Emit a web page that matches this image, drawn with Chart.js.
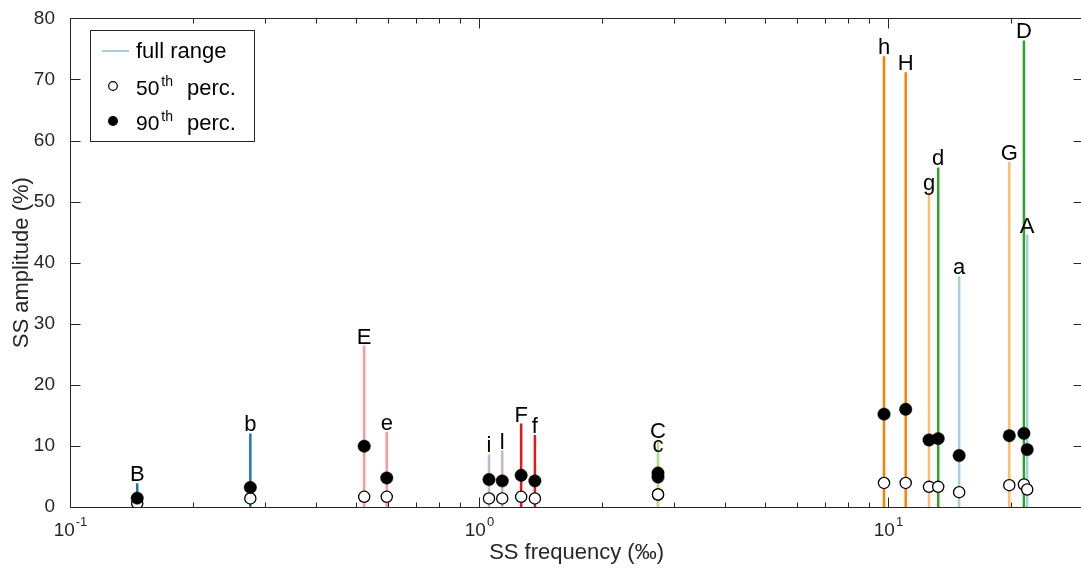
<!DOCTYPE html>
<html>
<head>
<meta charset="utf-8">
<script src="https://cdn.jsdelivr.net/npm/chart.js@4.4.1/dist/chart.umd.min.js"></script>
<style>
  html, body { margin: 0; padding: 0; background: #fff; overflow: hidden; }
  #c { display: block; }
</style>
</head>
<body>
<!-- canvas slightly wider than the window: the plot box runs past the right edge like the original -->
<canvas id="c" width="1090" height="577"></canvas>
<script>
// site labels, frequency (per mille), full range max, 50th and 90th percentile amplitude (%)
const names   = ['B', 'b', 'E', 'e', 'i', 'l', 'F', 'f', 'C', 'c', 'h', 'H', 'g', 'd', 'a', 'G', 'D', 'A'];
const freq    = [0.146, 0.276, 0.524, 0.595, 1.058, 1.14, 1.268, 1.37, 2.74, 2.74, 9.78, 11.05, 12.6, 13.27, 14.93, 19.8, 21.5, 21.9];
const fullMax = [3.9, 12.05, 26.4, 12.3, 8.6, 9.25, 13.67, 11.8, 11.0, 8.75, 73.8, 71.2, 51.5, 55.6, 37.8, 56.5, 76.4, 44.6];
const perc50  = [0.6, 1.4, 1.67, 1.67, 1.4, 1.4, 1.67, 1.4, 2.05, 2.05, 3.94, 3.94, 3.3, 3.3, 2.43, 3.57, 3.68, 2.87];
const perc90  = [1.45, 3.2, 9.95, 4.75, 4.5, 4.27, 5.19, 4.27, 5.56, 4.9, 15.2, 16.0, 10.97, 11.2, 8.43, 11.67, 12.05, 9.4];
const letterColors = { a: '#a6cee3', b: '#1f78b4', c: '#b2df8a', d: '#33a02c', e: '#fb9a99',
                       f: '#e31a1c', g: '#fdbf6f', h: '#ff7f00', i: '#cab2d6', l: '#cab2d6' };
const xTickValues = [0.1, 1, 10];
const xTickExps   = ['-1', '0', '1'];

const FONT = "'Liberation Sans', Arial, sans-serif";
const AX = '#262626';

function colorOf(n){ return letterColors[n.toLowerCase()]; }

const rangeSets = names.map((n, i) => ({
  type: 'line',
  showLine: true,
  data: [{ x: freq[i], y: 0 }, { x: freq[i], y: fullMax[i] }],
  borderColor: colorOf(n),
  borderWidth: 2.5,
  pointRadius: 0,
  order: 3
}));

const p50Set = {
  type: 'scatter',
  data: freq.map((f, i) => ({ x: f, y: perc50[i] })),
  pointRadius: 5.6,
  pointBackgroundColor: '#fff',
  pointBorderColor: '#000',
  pointBorderWidth: 1.3,
  order: 2
};
const p90Set = {
  type: 'scatter',
  data: freq.map((f, i) => ({ x: f, y: perc90[i] })),
  pointRadius: 6.2,
  pointBackgroundColor: '#000',
  pointBorderColor: '#000',
  pointBorderWidth: 0.5,
  order: 1
};

const decor = {
  id: 'decor',
  afterDatasetsDraw(chart) {
    const { ctx, chartArea: a, scales: { x, y } } = chart;
    ctx.save();
    // box + inward ticks
    ctx.strokeStyle = AX; ctx.lineWidth = 1;
    const L = Math.round(a.left) + 0.5, T = Math.round(a.top) + 0.5;
    const R = Math.round(a.right) + 0.5, B = Math.round(a.bottom) + 0.5;
    ctx.beginPath();
    ctx.moveTo(L, T); ctx.lineTo(R, T); ctx.lineTo(R, B); ctx.lineTo(L, B); ctx.closePath();
    for (const d of xTickValues) {
      for (let m = 1; m < 10; m++) {
        const v = m * d;
        if (v > x.max) break;
        const px = Math.round(x.getPixelForValue(v)) + 0.5;
        const len = m === 1 ? 10 : 5;
        ctx.moveTo(px, B); ctx.lineTo(px, B - len);
        ctx.moveTo(px, T); ctx.lineTo(px, T + len);
      }
    }
    for (const t of y.ticks) {
      const py = Math.round(y.getPixelForValue(t.value)) + 0.5;
      ctx.moveTo(L, py); ctx.lineTo(L + 10, py);
      ctx.moveTo(R, py); ctx.lineTo(R - 10, py);
    }
    ctx.stroke();

    // x tick labels with superscript exponents
    ctx.fillStyle = AX;
    ctx.textBaseline = 'alphabetic';
    ctx.textAlign = 'left';
    xTickValues.forEach((v, i) => {
      const px = x.getPixelForValue(v);
      ctx.font = '19px ' + FONT;
      const wb = ctx.measureText('10').width;
      ctx.font = '13px ' + FONT;
      const we = ctx.measureText(xTickExps[i]).width;
      const x0 = px - (wb + we) / 2;
      ctx.font = '19px ' + FONT;
      ctx.fillText('10', x0, 536);
      ctx.font = '13px ' + FONT;
      ctx.fillText(xTickExps[i], x0 + wb + 1, 526);
    });

    // letters above each range line
    ctx.fillStyle = '#000';
    ctx.textAlign = 'center';
    ctx.font = '22px ' + FONT;
    names.forEach((n, i) => {
      ctx.fillText(n, x.getPixelForValue(freq[i]), y.getPixelForValue(fullMax[i]) - 2);
    });

    // legend
    ctx.fillStyle = '#fff';
    ctx.fillRect(90.5, 30.5, 164, 111);
    ctx.strokeStyle = AX;
    ctx.strokeRect(90.5, 30.5, 164, 111);
    ctx.strokeStyle = '#a6cee3'; ctx.lineWidth = 2;
    ctx.beginPath(); ctx.moveTo(102, 51); ctx.lineTo(129, 51); ctx.stroke();
    ctx.fillStyle = '#000'; ctx.textAlign = 'left';
    ctx.font = '22px ' + FONT;
    ctx.fillText('full range', 136, 58);
    ctx.lineWidth = 1.2; ctx.strokeStyle = '#000';
    ctx.beginPath(); ctx.arc(113, 86, 4.3, 0, Math.PI * 2); ctx.fillStyle = '#fff'; ctx.fill(); ctx.stroke();
    ctx.beginPath(); ctx.arc(113, 121, 5, 0, Math.PI * 2); ctx.fillStyle = '#000'; ctx.fill();
    [['50', 95], ['90', 130]].forEach(([num, base]) => {
      ctx.font = '21px ' + FONT;
      ctx.fillText(num, 136, base);
      const w = ctx.measureText(num).width;
      ctx.font = '14px ' + FONT;
      ctx.fillText('th', 136 + w + 2, base - 9);
      ctx.font = '22px ' + FONT;
      ctx.fillText('perc.', 187, base);
    });
    ctx.restore();
  }
};

new Chart(document.getElementById('c'), {
  type: 'scatter',
  data: { datasets: [...rangeSets, p50Set, p90Set] },
  options: {
    responsive: false,
    animation: false,
    devicePixelRatio: 1,
    layout: { padding: { left: 0, right: 4, top: 13, bottom: 0 } },
    plugins: { legend: { display: false }, tooltip: { enabled: false } },
    scales: {
      x: {
        type: 'logarithmic', min: 0.1, max: 30,
        grid: { display: false }, border: { display: false },
        ticks: { display: false },
        title: { display: true, text: 'SS frequency (‰)', color: AX,
                 font: { family: FONT, size: 22 }, padding: { top: 0, bottom: 11 } },
        afterFit(s) { s.height = 70; }
      },
      y: {
        min: 0, max: 80,
        grid: { display: false }, border: { display: false },
        ticks: { stepSize: 10, color: AX, padding: 7, font: { family: FONT, size: 19 } },
        title: { display: true, text: 'SS amplitude (%)', color: AX,
                 font: { family: FONT, size: 22 }, padding: { top: 9, bottom: 0 } },
        afterFit(s) { s.width = 70; }
      }
    }
  },
  plugins: [decor]
});
</script>
</body>
</html>
